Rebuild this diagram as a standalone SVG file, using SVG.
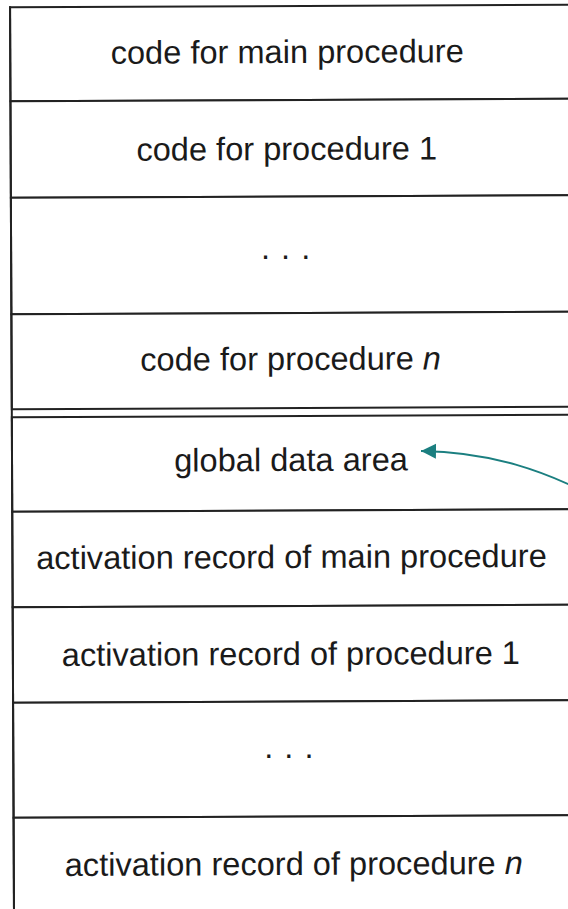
<svg xmlns="http://www.w3.org/2000/svg" width="568" height="909" viewBox="0 0 568 909">
<style>
.row{fill:#fff;stroke:#222;stroke-width:2}
.edge{stroke:#222;stroke-width:2}
.lbl{font-family:"Liberation Sans",Arial,sans-serif;font-size:32.6px;fill:#1a1a1a;text-anchor:middle}
.dots{letter-spacing:1px}
.conn{fill:none;stroke:#1b7f80;stroke-width:2}
</style>
<defs>
<marker id="ah" markerWidth="16" markerHeight="16" refX="15" refY="8" orient="auto" markerUnits="userSpaceOnUse">
<path d="M15,8 L0,0.5 L0,15.5 Z" fill="#1b7f80"/>
</marker>
</defs>
<rect width="568" height="909" fill="#fff"/>
<g transform="rotate(-0.25 290 455)">
<g id="code-main"><rect class="row" x="12" y="6" width="570" height="94"/><text class="lbl" x="289" y="63">code for main procedure</text></g>
<g id="code-proc1"><rect class="row" x="12" y="100" width="570" height="96.5"/><text class="lbl" x="288" y="160">code for procedure 1</text></g>
<g id="code-dots"><rect class="row" x="12" y="196.5" width="570" height="116.5"/><text class="lbl dots" x="287" y="259">. . .</text></g>
<g id="code-procn"><rect class="row" x="12" y="313" width="570" height="95"/><text class="lbl" x="291" y="370">code for procedure <tspan font-style="italic">n</tspan></text></g>
<g id="global-data"><rect class="row" x="12" y="416" width="570" height="94.5"/><text class="lbl" x="291" y="471">global data area</text></g>
<g id="ar-main"><rect class="row" x="12" y="510.5" width="570" height="95.5"/><text class="lbl" x="291" y="568">activation record of main procedure</text></g>
<g id="ar-proc1"><rect class="row" x="12" y="606" width="570" height="95.5"/><text class="lbl" x="290" y="665">activation record of procedure 1</text></g>
<g id="ar-dots"><rect class="row" x="12" y="701.5" width="570" height="115"/><text class="lbl dots" x="288" y="758">. . .</text></g>
<g id="ar-procn"><rect class="row" x="12" y="816.5" width="570" height="110"/><text class="lbl" x="292" y="875">activation record of procedure <tspan font-style="italic">n</tspan></text></g>
<line class="edge" x1="12" y1="5" x2="12" y2="930"/>
</g>
<g id="connectors">
<path class="conn" d="M600 500 C 545 470, 490 452, 421 451" marker-end="url(#ah)"/>
</g>
</svg>
